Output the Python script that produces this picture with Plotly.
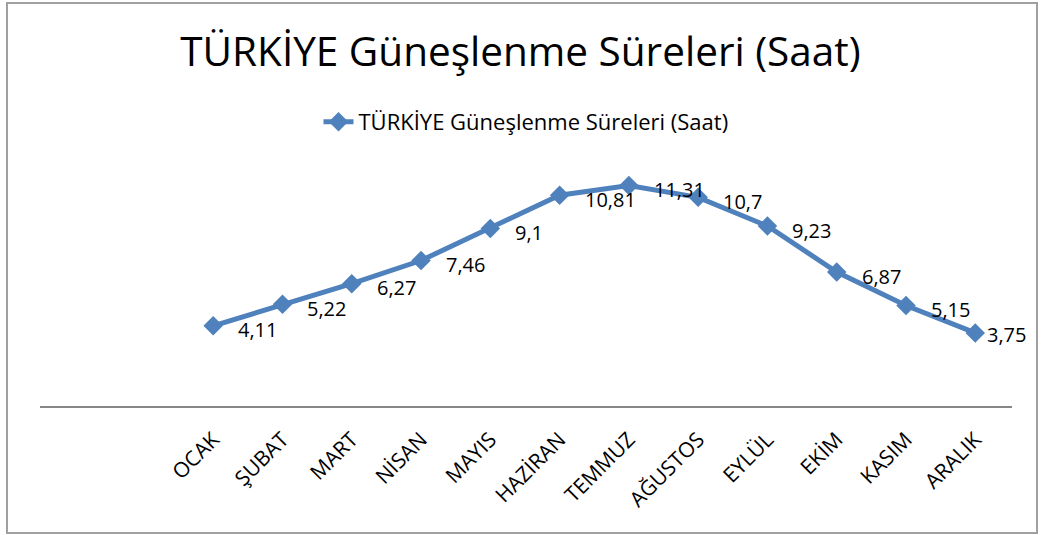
import plotly.graph_objects as go

months = ["OCAK", "ŞUBAT", "MART", "NİSAN", "MAYIS", "HAZİRAN",
          "TEMMUZ", "AĞUSTOS", "EYLÜL", "EKİM", "KASIM", "ARALIK"]
hours = [4.11, 5.22, 6.27, 7.46, 9.1, 10.81, 11.31, 10.7, 9.23, 6.87, 5.15, 3.75]
labels = [f"{v:g}".replace(".", ",") for v in hours]
series_name = "TÜRKİYE Güneşlenme Süreleri (Saat)"
title_text = "TÜRKİYE Güneşlenme Süreleri (Saat)"

FONT = "Open Sans"
BLUE = "#4F81BD"

fig = go.Figure()
fig.add_trace(go.Scatter(
    x=months, y=hours, mode="lines+markers", name=series_name,
    line=dict(color=BLUE, width=5),
    marker=dict(symbol="diamond", size=15, color=BLUE),
))

annotations = []
for i, (m, v, t) in enumerate(zip(months, hours, labels)):
    last = i == len(months) - 1
    annotations.append(dict(
        x=m, y=v, xref="x", yref="y", text=t, showarrow=False,
        xanchor="left", yanchor="middle",
        xshift=10 if last else 23, yshift=-2 if last else -4,
        font=dict(family=FONT, size=20, color="#000000"),
    ))

fig.update_layout(
    width=1041, height=535,
    margin=dict(l=40, r=29, t=172, b=129, autoexpand=False),
    paper_bgcolor="white", plot_bgcolor="white",
    title=dict(text=title_text, x=0.5, xanchor="center", y=0.903, yanchor="middle",
               font=dict(family=FONT, size=40.5, color="#000000")),
    showlegend=True,
    legend=dict(orientation="h", x=0.5, xanchor="center", y=1.214, yanchor="middle",
                font=dict(family=FONT, size=22, color="#000000"),
                bgcolor="rgba(0,0,0,0)"),
    xaxis=dict(type="category", range=[-2.5, 11.53], showgrid=False,
               showline=True, linecolor="#868686", linewidth=2,
               ticks="outside", ticklen=11, tickcolor="rgba(0,0,0,0)",
               tickangle=-45, tickfont=dict(family=FONT, size=21, color="#000000"),
               zeroline=False, automargin=False),
    yaxis=dict(range=[0, 12], showgrid=False, showline=False, showticklabels=False,
               zeroline=False, ticks="", automargin=False),
    annotations=annotations,
    shapes=[dict(type="rect", xref="paper", yref="paper",
                 x0=(7 - 40) / 972, x1=(1037 - 40) / 972,
                 y0=(406 - 533) / 234, y1=(406 - 3) / 234,
                 line=dict(color="#A0A0A0", width=2), fillcolor="rgba(0,0,0,0)",
                 layer="below")],
)

fig.write_html("out.html", config={"displayModeBar": False},
               post_script="document.body.style.margin='0';document.body.style.overflow='hidden';")
